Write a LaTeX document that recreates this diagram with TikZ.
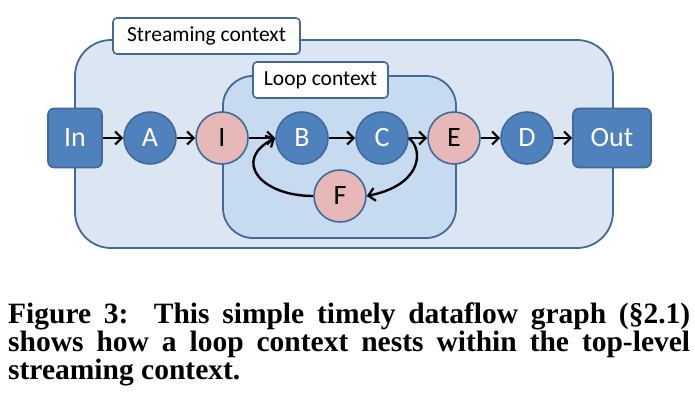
\documentclass[tikz,border=0pt]{standalone}
\usepackage{fontspec}
\setmainfont{Liberation Serif}
\newfontfamily\calib{Carlito}
\usetikzlibrary{arrows.meta}
\definecolor{outerfill}{HTML}{DCE6F2}
\definecolor{loopfill}{HTML}{C6DBF0}
\definecolor{edgeblue}{HTML}{41699A}
\definecolor{nodeblue}{HTML}{4F81BD}
\definecolor{nodepink}{HTML}{E6B9B8}
\tikzset{
  ctxbox/.style={draw=edgeblue, line width=1.8pt},
  ctxlabel/.style={draw=edgeblue, fill=white, line width=1.6pt, rounded corners=4pt, inner sep=0pt, font=\calib\fontsize{21.5}{24}\selectfont},
  bluecirc/.style={circle, draw=edgeblue, fill=nodeblue, line width=1.6pt, minimum size=52pt, inner sep=0pt, text=white, font=\calib\fontsize{28}{30}\selectfont},
  pinkcirc/.style={circle, draw=edgeblue, fill=nodepink, line width=1.6pt, minimum size=52pt, inner sep=0pt, text=black, font=\calib\fontsize{28}{30}\selectfont},
  iobox/.style={rectangle, rounded corners=6pt, draw=edgeblue, fill=nodeblue, line width=1.6pt, inner sep=0pt, minimum height=59pt, text=white, font=\calib\fontsize{28}{30}\selectfont},
  flow/.style={line width=2.4pt, -{Straight Barb[length=6.5pt,width=13pt,line width=2.2pt]}},
}
\begin{document}
\begin{tikzpicture}[x=1pt,y=1pt]
\useasboundingbox (0,0) rectangle (695,-408);
% outer streaming context
\draw[ctxbox, fill=outerfill, rounded corners=36pt] (75,-40) rectangle (613,-248);
\node[ctxlabel, minimum width=187pt, minimum height=36pt] (slabel) at (206.5,-36) {Streaming context};
% loop context
\draw[ctxbox, fill=loopfill, rounded corners=30pt] (223,-76) rectangle (456,-238);
\node[ctxlabel, minimum width=135pt, minimum height=36pt] (llabel) at (320.5,-80) {Loop context};
% nodes
\node[iobox, minimum width=54pt] (In) at (75,-138) {In};
\node[bluecirc] (A) at (150,-138) {A};
\node[pinkcirc] (I) at (222,-138) {I};
\node[bluecirc] (B) at (302,-138) {B};
\node[bluecirc] (C) at (382,-138) {C};
\node[pinkcirc] (E) at (454,-138) {E};
\node[bluecirc] (D) at (527,-138) {D};
\node[iobox, minimum width=78pt] (Out) at (612,-138) {Out};
\node[pinkcirc] (F) at (340,-196) {F};
% edges
\draw[flow] (In) -- (A);
\draw[flow] (A) -- (I);
\draw[flow] (I) -- (B);
\draw[flow] (B) -- (C);
\draw[flow] (C) -- (E);
\draw[flow] (E) -- (D);
\draw[flow] (D) -- (Out);
\draw[flow] (C.east) .. controls (424,-150) and (422,-185) .. (F.east);
\draw[flow] (F.west) .. controls (260,-196) and (232,-160) .. (B.west);
% caption
\node[anchor=north west, inner sep=0pt, align=left,
      font=\bfseries\fontsize{29.5}{26.3}\selectfont] (cap) at (8,-303)
  {\makebox[682pt][s]{Figure 3:\ \ This simple timely dataflow graph (\S2.1)}\\
   \makebox[682pt][s]{shows how a loop context nests within the top-level}\\
   streaming context.};
\end{tikzpicture}
\end{document}
